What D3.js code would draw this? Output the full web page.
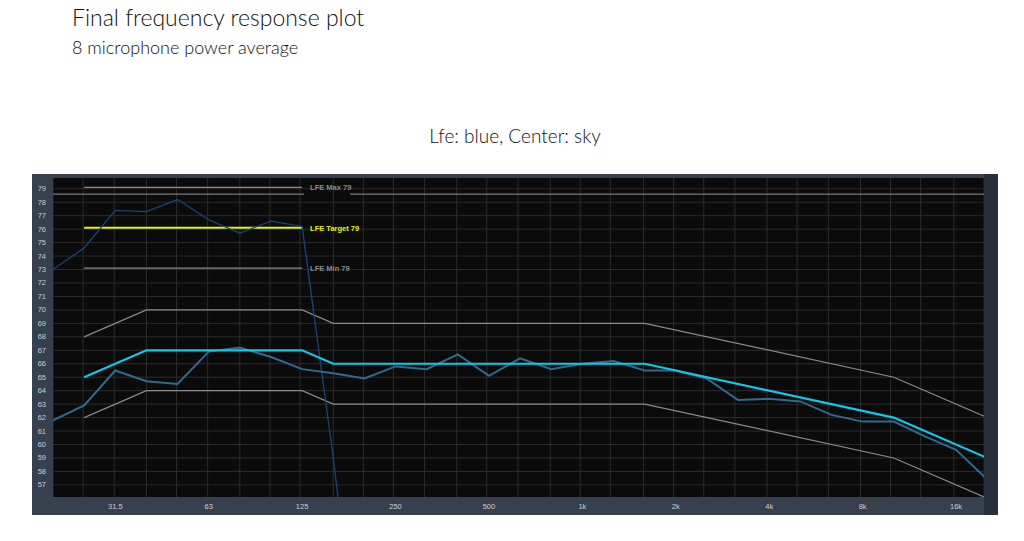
<!DOCTYPE html>
<html>
<head>
<meta charset="utf-8">
<script src="https://cdn.jsdelivr.net/npm/d3@7"></script>
<style>
  body { margin: 0; background: #fff; font-family: "Lato", "Open Sans", sans-serif; }
</style>
</head>
<body>
<svg id="chart" width="1024" height="541"></svg>
<script>
// third-octave bands, 20 Hz .. 20 kHz (index 0..30)
var bands = [20, 25, 31.5, 40, 50, 63, 80, 100, 125, 160, 200, 250, 315, 400, 500, 630, 800,
  1000, 1250, 1600, 2000, 2500, 3150, 4000, 5000, 6300, 8000, 10000, 12500, 16000, 20000];
var tickLabels = ["31.5", "63", "125", "250", "500", "1k", "2k", "4k", "8k", "16k"];
var tickBands = [31.5, 63, 125, 250, 500, 1000, 2000, 4000, 8000, 16000];
var yTicks = d3.range(57, 80);

// curves: [band, dB]
var upperLimit = [[25, 68], [40, 70], [125, 70], [160, 69], [1600, 69], [10000, 65], [20000, 62]];
var lowerLimit = [[25, 62], [40, 64], [125, 64], [160, 63], [1600, 63], [10000, 59], [20000, 56]];
var centerTarget = [[25, 65], [31.5, 66], [40, 67], [125, 67], [160, 66], [1600, 66], [10000, 62], [20000, 59]];
var centerMeasured = [61.8, 62.9, 65.5, 64.7, 64.5, 66.9, 67.2, 66.5, 65.6, 65.3, 64.9, 65.8, 65.6, 66.7,
  65.1, 66.4, 65.6, 66.0, 66.2, 65.5, 65.5, 64.9, 63.3, 63.4, 63.2, 62.2, 61.7, 61.7, 60.6, 59.6, 57.4];
var lfeMeasured = [73.0, 74.6, 77.4, 77.3, 78.2, 76.7, 75.7, 76.6, 76.2, 59, 40];
var lfeRefs = [
  {name: "LFE Max 79", value: 79.1, color: "#8a8a8a"},
  {name: "LFE Target 79", value: 76.1, color: "#e2f21a"},
  {name: "LFE Min 79", value: 73.1, color: "#8a8a8a"}
];
var lfeRange = [25, 125];

var svg = d3.select("#chart");
var plot = {left: 53, right: 984, top: 178, bottom: 497};

// theoretical band centres for log positions
var x = d3.scaleLog().domain([20, 20000]).range([plot.left, plot.right]);
var y = d3.scaleLinear().domain([56.1, 79.8]).range([plot.bottom, plot.top]);

// titles
svg.append("text").attr("x", 72).attr("y", 26).attr("font-size", 23).attr("font-weight", 300)
  .attr("fill", "#111").text("Final frequency response plot");
svg.append("text").attr("x", 72).attr("y", 54).attr("font-size", 18).attr("font-weight", 300)
  .attr("fill", "#111").text("8 microphone power average");
svg.append("text").attr("x", 515).attr("y", 143).attr("text-anchor", "middle").attr("font-size", 19)
  .attr("font-weight", 300).attr("fill", "#111").text("Lfe: blue, Center: sky");

// frame
svg.append("rect").attr("x", 32).attr("y", 174).attr("width", 966).attr("height", 341).attr("fill", "#36414d");
svg.append("rect").attr("x", 984).attr("y", 174).attr("width", 14).attr("height", 341).attr("fill", "#27303a");
svg.append("rect").attr("x", plot.left).attr("y", plot.top).attr("width", plot.right - plot.left)
  .attr("height", plot.bottom - plot.top).attr("fill", "#0b0b0b");

svg.append("defs").append("clipPath").attr("id", "clip").append("rect")
  .attr("x", plot.left).attr("y", plot.top).attr("width", plot.right - plot.left)
  .attr("height", plot.bottom - plot.top);

var g = svg.append("g").attr("clip-path", "url(#clip)");

// grid
g.selectAll(".vg").data(bands).enter().append("line")
  .attr("x1", d => x(d)).attr("x2", d => x(d)).attr("y1", plot.top).attr("y2", plot.bottom)
  .attr("stroke", "#2c2c2c").attr("stroke-width", 1);
g.selectAll(".hg").data(yTicks).enter().append("line")
  .attr("x1", plot.left).attr("x2", plot.right).attr("y1", d => y(d)).attr("y2", d => y(d))
  .attr("stroke", "#2c2c2c").attr("stroke-width", 1);

// axes labels
var bandX = f => x(20 * Math.pow(2, bands.indexOf(f) / 3));
svg.selectAll(".xt").data(tickBands).enter().append("text")
  .attr("x", d => bandX(d)).attr("y", 509).attr("text-anchor", "middle")
  .attr("font-size", 7.5).attr("font-family", "Liberation Sans, Arial, sans-serif")
  .attr("fill", "#c8cdd3").text((d, i) => tickLabels[i]);
svg.selectAll(".yt").data(yTicks).enter().append("text")
  .attr("x", 46).attr("y", d => y(d) + 2.5).attr("text-anchor", "end")
  .attr("font-size", 7.5).attr("font-family", "Liberation Sans, Arial, sans-serif")
  .attr("fill", "#c8cdd3").text(d => d);

var line = d3.line().x(d => bandX(d[0])).y(d => y(d[1]));

// long reference line under LFE Max
g.append("line").attr("x1", plot.left).attr("x2", 304).attr("y1", y(78.6)).attr("y2", y(78.6))
  .attr("stroke", "#7a7a7a").attr("stroke-width", 1.2);
g.append("line").attr("x1", 350).attr("x2", plot.right).attr("y1", y(78.6)).attr("y2", y(78.6))
  .attr("stroke", "#7a7a7a").attr("stroke-width", 1.2);

// LFE reference lines
lfeRefs.forEach(function(r) {
  g.append("line").attr("x1", bandX(lfeRange[0])).attr("x2", bandX(lfeRange[1]))
    .attr("y1", y(r.value)).attr("y2", y(r.value))
    .attr("stroke", r.color).attr("stroke-width", r.name.indexOf("Target") >= 0 ? 2 : 1.3);
  g.append("text").attr("x", bandX(lfeRange[1]) + 8).attr("y", y(r.value) + 3)
    .attr("font-size", 7.5).attr("font-weight", "bold").attr("font-family", "Liberation Sans, Arial, sans-serif")
    .attr("fill", r.color).text(r.name);
});

// limit curves
[upperLimit, lowerLimit].forEach(function(c) {
  g.append("path").datum(c).attr("d", line).attr("fill", "none")
    .attr("stroke", "#8a8a8a").attr("stroke-width", 1.2);
});

// LFE measured
g.append("path").datum(lfeMeasured.map((v, i) => [bands[i], v])).attr("d", line)
  .attr("fill", "none").attr("stroke", "#1b4478").attr("stroke-width", 1.3);

// Center measured
g.append("path").datum(centerMeasured.map((v, i) => [bands[i], v])).attr("d", line)
  .attr("fill", "none").attr("stroke", "#2f6a8f").attr("stroke-width", 2);

// Center target
g.append("path").datum(centerTarget).attr("d", line).attr("fill", "none")
  .attr("stroke", "#12c8ea").attr("stroke-width", 2.2);
</script>
</body>
</html>
